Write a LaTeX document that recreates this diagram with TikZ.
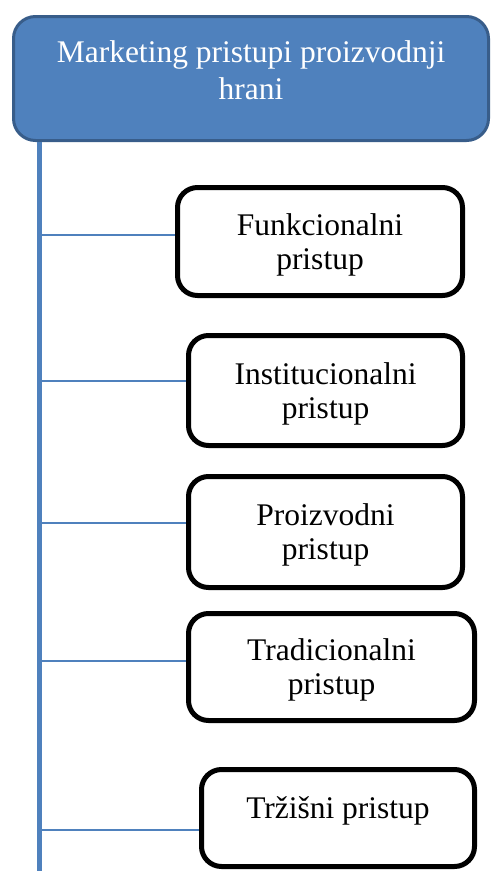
\documentclass[tikz,border=0pt]{standalone}
\usepackage{fontspec}
\setmainfont{Liberation Serif}
\usepackage{xcolor}

\definecolor{accentblue}{HTML}{4F81BD}
\definecolor{accentedge}{HTML}{385D8A}

\tikzset{
  rootbox/.style={draw=accentedge, line width=3pt, fill=accentblue, text=white,
    rounded corners=22pt, align=center, minimum width=475pt, minimum height=124pt,
    text depth=16pt, font=\fontsize{31.5}{37}\selectfont},
  leafbox/.style={draw=black, line width=5pt, fill=white, rounded corners=20pt,
    align=center, text depth=0pt, font=\fontsize{31.5}{34}\selectfont},
  trunk/.style={accentblue, line width=4.5pt},
  branch/.style={accentblue, line width=1.5pt}
}

\begin{document}
\begin{tikzpicture}[x=1pt,y=-1pt]
        \useasboundingbox (0,0) rectangle (492,871);

        \node[rootbox] (root) at (251,78.5) {Marketing pristupi proizvodnji\\hrani};

        \node[leafbox, minimum width=285pt, minimum height=108pt] (funk) at (320,241.5) {Funkcionalni\\pristup};
        \node[leafbox, minimum width=274pt, minimum height=110pt] (inst) at (325.5,390.5) {Institucionalni\\pristup};
        \node[leafbox, minimum width=274pt, minimum height=111pt] (proiz) at (325.5,532) {Proizvodni\\pristup};
        \node[leafbox, minimum width=286pt, minimum height=107pt] (trad) at (331.5,667) {Tradicionalni\\pristup};
        \node[leafbox, minimum width=273pt, minimum height=97pt, text depth=20pt] (trz) at (338,818) {Tržišni pristup};

        \coordinate (bottom) at (39.5,871);
        \coordinate (j1) at (39.5,235);
        \coordinate (j2) at (39.5,381);
        \coordinate (j3) at (39.5,523);
        \coordinate (j4) at (39.5,661);
        \coordinate (j5) at (39.5,830);

        
        \draw [trunk] (root.south -| bottom) -- (bottom);

        \draw [branch] (j1) -- (j1 -| funk.west);
        \draw [branch] (j2) -- (j2 -| inst.west);
        \draw [branch] (j3) -- (j3 -| proiz.west);
        \draw [branch] (j4) -- (j4 -| trad.west);
        \draw [branch] (j5) -- (j5 -| trz.west);

    \end{tikzpicture}
\end{document}
